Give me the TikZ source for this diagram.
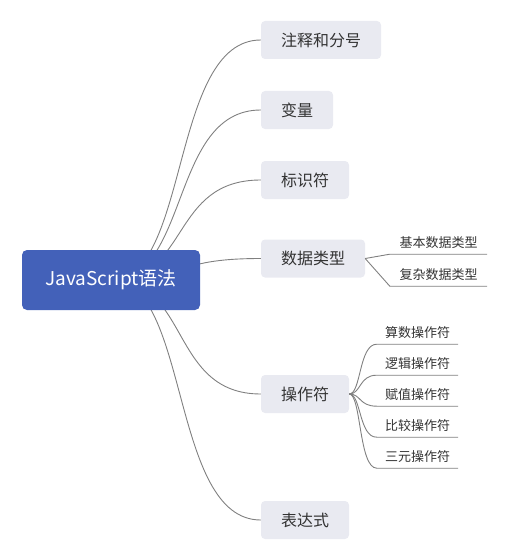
\documentclass[tikz,border=0pt]{standalone}
\usepackage{fontspec}
\usepackage{tikz}
\usetikzlibrary{backgrounds}
\newfontfamily\cjk{Noto Sans CJK SC}
\definecolor{rootblue}{HTML}{4361B9}
\definecolor{topicbg}{HTML}{E9EAF1}
\definecolor{linegrey}{HTML}{808080}
\definecolor{ink}{HTML}{333333}

\begin{document}
\begin{tikzpicture}[x=1pt, y=-1pt,
  font=\cjk,
  root/.style={fill=rootblue, rounded corners=5pt, minimum width=178pt,
               minimum height=60pt, text=white, font=\cjk\fontsize{19}{22}\selectfont},
  topic/.style={fill=topicbg, rounded corners=4pt, minimum height=38pt,
                text=ink, font=\cjk\fontsize{16}{19}\selectfont},
  leaf/.style={minimum height=22pt, inner sep=0pt, text=ink,
               font=\cjk\fontsize{13}{15}\selectfont},
  wire/.style={draw=linegrey, line width=0.9pt}
]
\useasboundingbox (0,0) rectangle (508,559);

\node[root] (root) at (111,280) {JavaScript语法};

\node[topic, minimum width=120pt] (comment)  at (321,40)    {注释和分号};
\node[topic, minimum width=72pt]  (variable) at (297,110)   {变量};
\node[topic, minimum width=88pt]  (ident)    at (305,180)   {标识符};
\node[topic, minimum width=104pt] (dtype)    at (313,258.5) {数据类型};
\node[topic, minimum width=88pt]  (oper)     at (305,394)   {操作符};
\node[topic, minimum width=88pt]  (expr)     at (305,520)   {表达式};

\begin{scope}[on background layer]
\foreach \t in {comment,variable,ident,dtype,oper,expr}
  \draw[wire] (root.center) .. controls +(79,0) and +(-91,0) .. (\t.west);
\end{scope}

% data types
\node[leaf, minimum width=97pt] (basic)   at (438.5,243) {基本数据类型};
\node[leaf, minimum width=97pt] (complex) at (438.5,275) {复杂数据类型};

\draw[wire] (dtype.east) -- (basic.south west) -- (basic.south east);
\draw[wire] (dtype.east) -- (complex.south west) -- (complex.south east);

% operators
\foreach \name/\txt/\y in {arith/算数操作符/333, logic/逻辑操作符/364,
    assign/赋值操作符/395, compare/比较操作符/426, ternary/三元操作符/457}
  \node[leaf, minimum width=81pt] (\name) at (417.5,\y) {\txt};

\foreach \name in {arith,logic,assign,compare,ternary}
  \draw[wire] (oper.east) .. controls +(12,0) and +(-18,0) .. (\name.south west)
    -- (\name.south east);
\end{tikzpicture}
\end{document}
